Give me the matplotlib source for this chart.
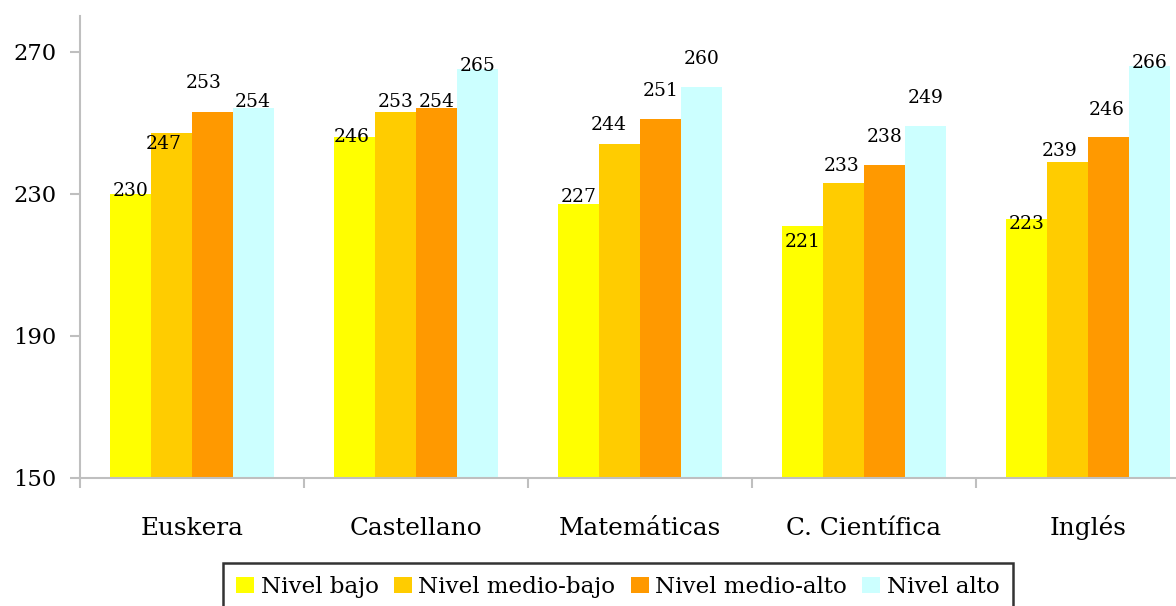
import matplotlib
matplotlib.use("Agg")
import matplotlib.pyplot as plt
import numpy as np

categories = ["Euskera", "Castellano", "Matemáticas", "C. Científica", "Inglés"]
series_names = ["Nivel bajo", "Nivel medio-bajo", "Nivel medio-alto", "Nivel alto"]
nivel_bajo = [230, 246, 227, 221, 223]
nivel_medio_bajo = [247, 253, 244, 233, 239]
nivel_medio_alto = [253, 254, 251, 238, 246]
nivel_alto = [254, 265, 260, 249, 266]
y_ticks = [150, 190, 230, 270]

series = [nivel_bajo, nivel_medio_bajo, nivel_medio_alto, nivel_alto]
colors = ["#FFFF00", "#FFCC00", "#FF9900", "#CCFFFF"]

# label offsets in pixels (dx, dy) relative to bar top centre (Excel-like placement)
offsets_dy = [
    [3, -11, 29, 6],
    [0, 10, 6, 3],
    [7, 19, 28, 28],
    [-16, 17, 28, 28],
    [-5, 11, 27, 3],
]
offsets_dx = [
    [0, -8, -9, 0],
    [-3, 0, 0, 0],
    [0, -11, 0, 0],
    [0, -2, 0, 0],
    [0, -8, -2, 0],
]

W, H = 1176, 606
dpi = 100
fig = plt.figure(figsize=(W / dpi, H / dpi), dpi=dpi)
ax = fig.add_axes([80 / W, (H - 478) / H, 1120 / W, 462 / H])

font = "DejaVu Serif"
bw = 0.182
x = np.arange(len(categories))
px2pt = 72 / dpi
for j, (vals, col, name) in enumerate(zip(series, colors, series_names)):
    xs = x + (j - 1.5) * bw
    ax.bar(xs, vals, width=bw, color=col, label=name, zorder=2, linewidth=0)
    for i, (xi, v) in enumerate(zip(xs, vals)):
        ax.annotate(str(v), (xi, v), xytext=(offsets_dx[i][j] * px2pt, offsets_dy[i][j] * px2pt),
                    textcoords="offset points", ha="center", va="center",
                    fontsize=13.5, family=font, color="black", zorder=3)

ax.set_xlim(-0.5, len(categories) - 0.5)
ax.set_ylim(150, 280)
ax.set_yticks(y_ticks)
ax.set_yticklabels([str(t) for t in y_ticks], family=font, fontsize=16.3)
ax.set_xticks(x)
ax.set_xticklabels(categories, family=font, fontsize=17.8)
for lab in ax.get_xticklabels():
    lab.set_verticalalignment("baseline")
ax.set_xticks(np.arange(len(categories) + 1) - 0.5, minor=True)
ax.tick_params(axis="x", which="major", length=0, pad=41)
ax.tick_params(axis="x", which="minor", length=7, width=1.5, color="#BFBFBF", direction="out")
ax.tick_params(axis="y", length=7, width=1.5, color="#BFBFBF", pad=10)

for s in ["top", "right"]:
    ax.spines[s].set_visible(False)
for s in ["left", "bottom"]:
    ax.spines[s].set_color("#BFBFBF")
    ax.spines[s].set_linewidth(1.5)

leg = fig.legend(loc="upper left", bbox_to_anchor=(223 / W, 1 - 563 / H), ncol=4,
                 prop={"family": font, "size": 16.6}, frameon=True, fancybox=False,
                 edgecolor="black", handlelength=0.78, handleheight=0.7, handletextpad=0.3,
                 columnspacing=0.65, borderpad=0.55, borderaxespad=0)
leg.get_frame().set_linewidth(1.8)

fig.savefig("out.png", dpi=dpi)
